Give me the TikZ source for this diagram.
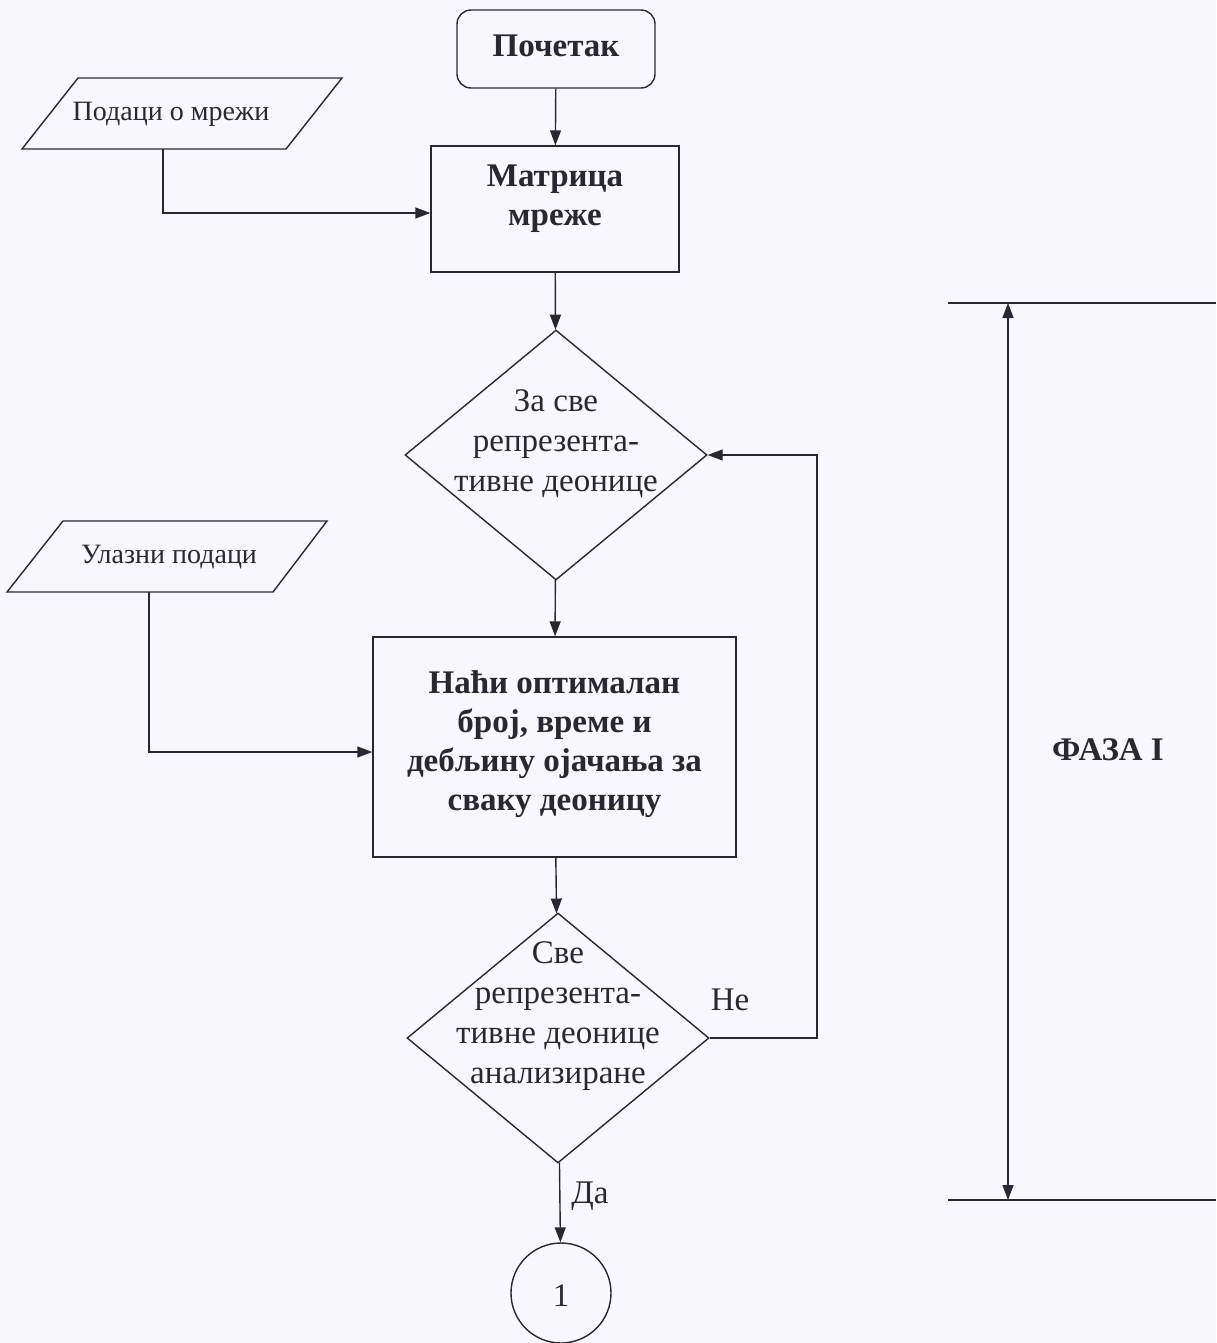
\documentclass[tikz,border=0pt]{standalone}
\usepackage{fontspec}
\setmainfont{Liberation Serif}
\usetikzlibrary{arrows.meta,shapes.geometric}
\definecolor{ink}{RGB}{40,40,50}
\definecolor{paper}{RGB}{248,248,252}
\begin{document}
\begin{tikzpicture}[x=1pt,y=-1pt,
  line/.style={draw=ink, line width=1.4pt},
  arr/.style={line, -{Triangle[length=15pt,width=11pt]}},
  arrboth/.style={line, {Triangle[length=15pt,width=11pt]}-{Triangle[length=15pt,width=11pt]}},
  rbox/.style={line, rectangle, inner sep=0pt},
  dia/.style={line, diamond, inner sep=0pt, minimum width=302pt, minimum height=250pt},
  txt/.style={align=center, text=ink, inner sep=0pt},
  small/.style={font=\fontsize{28}{39}\selectfont},
  reg/.style={font=\fontsize{33}{40}\selectfont},
  bld/.style={font=\bfseries\fontsize{33}{39}\selectfont}
]
\useasboundingbox[fill=paper] (0,0) rectangle (1216,1343);

% nodes
\node[rbox, rounded corners=14pt, minimum width=198pt, minimum height=78pt] (start) at (556,49) {};
\node[txt, bld] (startT) at (556,46) {Почетак};

\node[rbox, minimum width=248pt, minimum height=126pt] (mat) at (555,209) {};
\node[txt, bld] (matT) at (555,199) {Матрица\\мреже};

% input parallelograms
\draw[line] (78,78) -- (342,78) -- (286,149) -- (22,149) -- cycle;
\node[txt, small] (p1T) at (171,114) {Подаци о мрежи};
\coordinate (p1b) at (163,149);
\draw[line] (63,521) -- (327,521) -- (273,592) -- (7,592) -- cycle;
\node[txt, small] (p2T) at (169,557) {Улазни подаци};
\coordinate (p2b) at (149,592);

\node[dia] (d1) at (556,455) {};
\node[txt, reg] (d1T) at (556,444) {За све\\репрезента-\\тивне деонице};

\node[rbox, minimum width=363pt, minimum height=220pt] (big) at (554.5,747) {};
\node[txt, bld] (bigT) at (554.5,744) {Наћи оптималан\\број, време и\\дебљину ојачања за\\сваку деоницу};

\node[dia] (d2) at (558,1038) {};
\node[txt, reg] (d2T) at (558,1016) {Све\\репрезента-\\тивне деонице\\анализиране};

\node[line, circle, minimum size=100pt, inner sep=0pt] (c1) at (561,1293) {};
\node[txt, reg] (c1T) at (561,1296) {1};

\node[txt, reg] (ne) at (730,1000) {Не};
\node[txt, reg] (da) at (590,1196) {Да};

\node[txt, bld] (faza) at (1108,750) {ФАЗА I};

% connectors
\draw[arr] (start) -- (mat);
\draw[arr] (mat) -- (d1);
\draw[arr] (d1) -- (big);
\draw[arr] (big) -- (d2);
\draw[arr] (d2) -- (c1);
\draw[arr] (p1b) |- ([yshift=-4pt]mat.west);
\draw[arr] (p2b) |- ([yshift=-5pt]big.west);
\coordinate (loopR) at (817,1038);
\draw[arr] (d2.east) -- (loopR) |- (d1.east);

% phase marker
\coordinate (ptop) at (1008,303);
\coordinate (pbot) at (1008,1200);
\draw[line] (948,303) -- (1216,303);
\draw[line] (948,1200) -- (1216,1200);
\draw[arrboth] (ptop) -- (pbot);
\end{tikzpicture}
\end{document}
